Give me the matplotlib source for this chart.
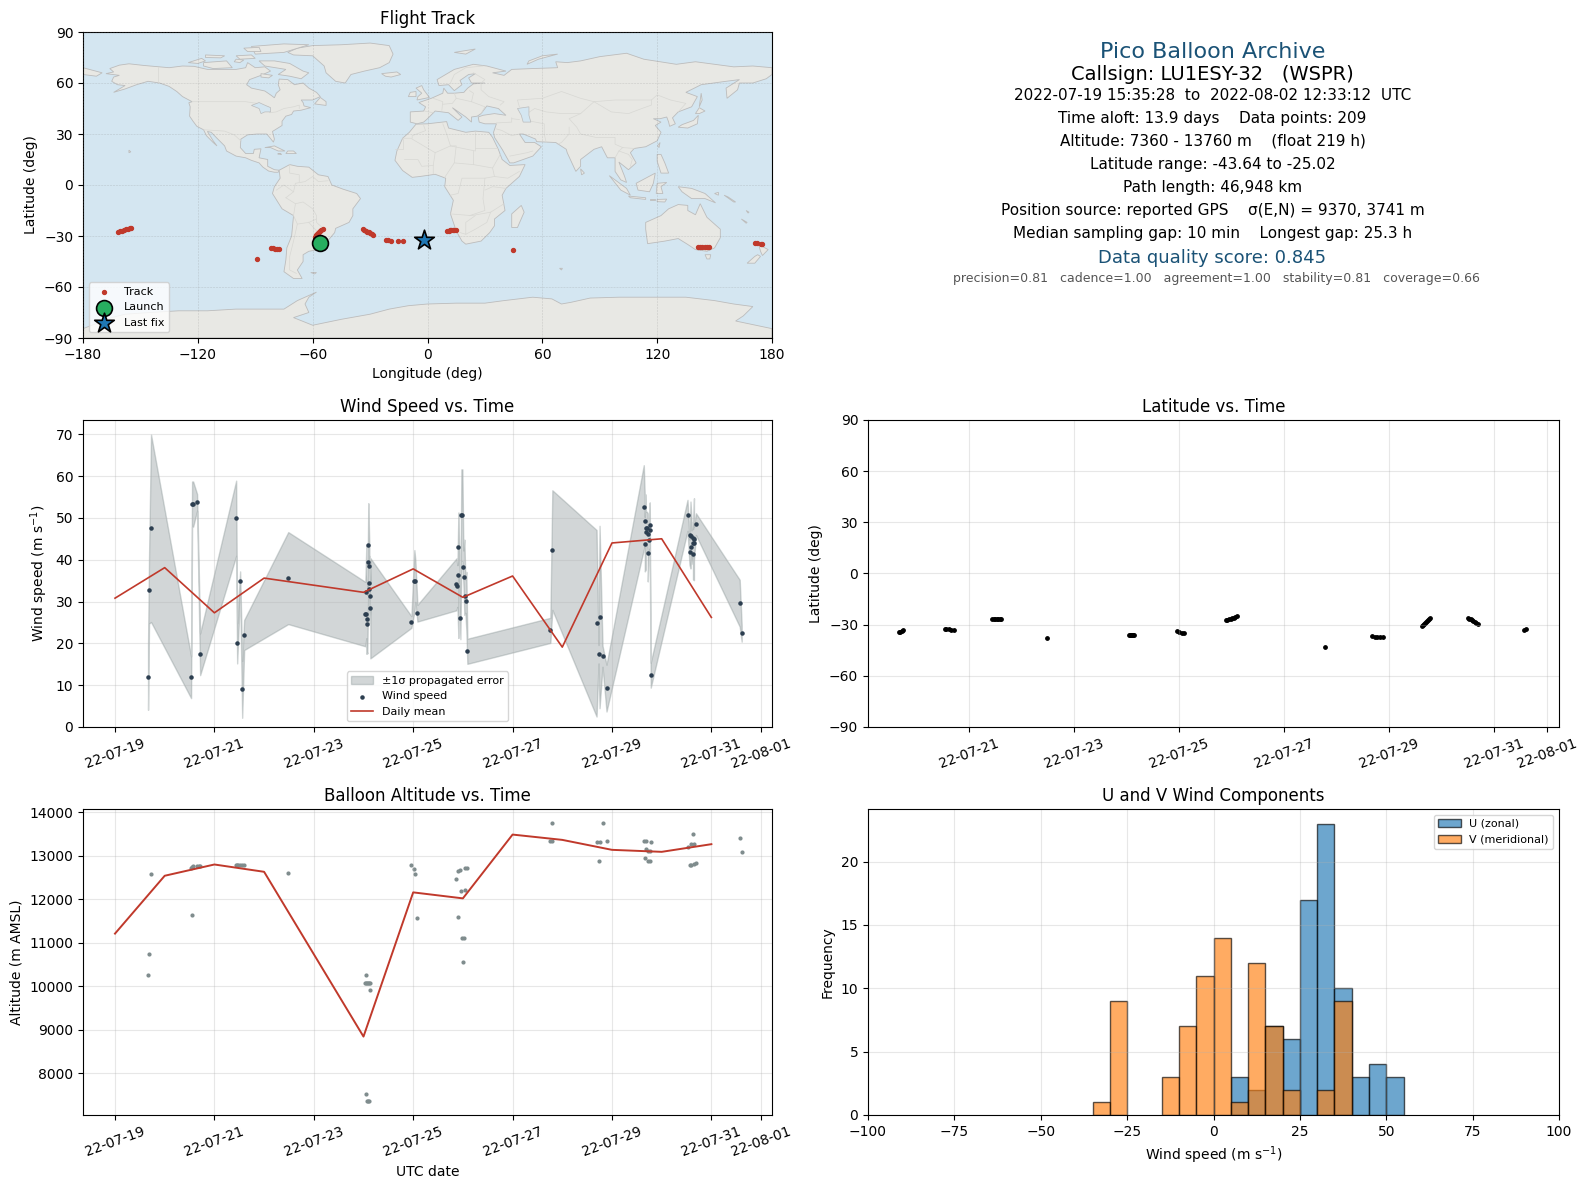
import datetime as dt

import matplotlib
matplotlib.use("Agg")
import matplotlib.dates as mdates
import matplotlib.pyplot as plt
import numpy as np
from matplotlib.patches import Polygon

# days after 2022-07-19 00:00 UTC
wind_t = [0.665, 0.685, 0.725, 1.531, 1.551, 1.572, 1.652, 1.713, 2.438, 2.458, 2.518, 2.559, 2.599, 3.486,
          5.037, 5.057, 5.057, 5.077, 5.077, 5.097, 5.097, 5.118, 5.118, 5.118, 5.138, 5.138,
          5.964, 6.024, 6.044, 6.085, 6.87, 6.89, 6.91, 6.91, 6.95, 6.97, 6.99, 7.01, 7.03, 7.05, 7.07, 7.09,
          8.76, 8.80, 9.69, 9.73, 9.75, 9.81, 9.89,
          10.64, 10.66, 10.66, 10.68, 10.68, 10.70, 10.72, 10.72, 10.74, 10.76, 10.76, 10.78,
          11.52, 11.56, 11.58, 11.60, 11.60, 11.63, 11.63, 11.63, 11.65, 11.65, 11.69, 12.57, 12.61]
wind_v = [11.9, 32.7, 47.5, 11.9, 53.3, 53.3, 53.7, 17.4, 49.9, 20.0, 34.9, 9.0, 22.0, 35.6,
          27.0, 32.2, 27.0, 25.8, 24.6, 43.5, 39.4, 38.4, 34.4, 32.9, 31.3, 28.4,
          25.1, 34.9, 34.9, 27.2, 34.1, 33.7, 36.3, 43.0, 26.0, 50.6, 50.6, 38.2, 35.8, 31.3, 30.1, 18.1,
          23.1, 42.3, 24.8, 17.4, 26.3, 16.9, 9.3,
          52.5, 49.2, 43.7, 46.6, 47.5, 47.5, 46.1, 41.6, 44.7, 48.2, 47.0, 12.4,
          50.6, 41.8, 45.9, 45.6, 43.0, 45.1, 43.9, 41.3, 44.9, 43.9, 48.5, 29.6, 22.4]
wind_err = [7.8, 8.0, 22.4, 5.0, 5.4, 5.4, 2.0, 5.0, 9.0, 4.8, 2.3, 6.8, 3.6, 11.0,
            7.7, 11.0, 9.5, 8.0, 7.0, 10.0, 14.0, 5.0, 6.0, 8.0, 3.0, 12.0,
            1.4, 7.4, 5.0, 2.0, 6.2, 5.0, 15.0, 7.0, 5.0, 11.0, 11.0, 4.0, 9.0, 4.0, 7.0, 3.0,
            3.0, 14.3, 22.3, 2.2, 21.8, 2.5, 5.6,
            10.1, 6.0, 6.5, 9.0, 4.0, 4.0, 5.0, 6.8, 3.0, 5.5, 6.5, 3.0,
            3.7, 3.0, 8.0, 4.0, 4.0, 4.0, 4.0, 6.0, 9.8, 4.0, 2.6, 5.6, 2.0]

day_t = [0, 1, 2, 3, 5, 6, 7, 8, 9, 10, 11, 12]
day_wind = [30.8, 38.1, 27.3, 35.6, 32.2, 37.8, 31.0, 36.1, 19.1, 44.0, 45.0, 26.2]
day_alt = [11211, 12541, 12800, 12632, 8843, 12159, 12021, 13488, 13366, 13137, 13091, 13267]

alt_t = [0.665, 0.685, 0.725, 1.531, 1.551, 1.551, 1.572, 1.652, 1.692, 1.713,
         2.438, 2.458, 2.478, 2.518, 2.559, 2.599, 3.486,
         5.057, 5.037, 5.057, 5.077, 5.097, 5.118, 5.138, 5.138, 5.057, 5.077, 5.097, 5.118,
         5.964, 6.024, 6.044, 6.085,
         6.87, 6.91, 6.95, 6.97, 6.91, 6.99, 7.03, 7.01, 7.05, 7.05, 7.09,
         8.76, 8.80, 8.80, 9.69, 9.75, 9.73, 9.81, 9.89,
         10.64, 10.68, 10.78, 10.68, 10.72, 10.76, 10.66, 10.72, 10.76,
         11.52, 11.60, 11.65, 11.63, 11.56, 11.60, 11.65, 11.69, 12.57, 12.61]
alt_m = [10270, 10753, 12587, 12730, 11647, 12745, 12770, 12770, 12770, 12770,
         12793, 12793, 12793, 12793, 12793, 12793, 12610,
         10250, 10065, 10065, 10065, 10065, 10065, 10065, 9905, 7520, 7360, 7360, 7360,
         12793, 12700, 12587, 11578,
         12472, 12655, 12678, 12197, 11600, 11120, 11120, 10547, 12212, 12724, 12724,
         13343, 13755, 13343, 13320, 13320, 12885, 13755, 13343,
         13343, 13343, 13320, 13160, 13114, 13114, 12953, 12885, 12885,
         13205, 13280, 13280, 13503, 12780, 12793, 12816, 12840, 13412, 13091]

track_t = [0.68, 0.70, 0.72, 0.75,
           1.55, 1.57, 1.62, 1.66, 1.72,
           2.44, 2.47, 2.50, 2.53, 2.56, 2.60, 2.62,
           3.48,
           5.05, 5.07, 5.09, 5.11, 5.13, 5.15,
           5.97, 6.00, 6.05, 6.10,
           6.89, 6.92, 6.95, 6.98, 7.01, 7.04, 7.07, 7.10,
           8.78,
           9.68, 9.72, 9.76, 9.82, 9.89,
           10.62, 10.64, 10.66, 10.68, 10.70, 10.72, 10.74, 10.76, 10.78,
           11.50, 11.52, 11.55, 11.58, 11.60, 11.63, 11.66, 11.68,
           12.57, 12.61]
track_lat = [-34.2, -34.1, -33.9, -33.3,
             -32.3, -32.5, -32.8, -32.9, -32.9,
             -26.9, -26.8, -26.7, -26.6, -26.6, -26.6, -26.6,
             -38.1,
             -36.3, -36.3, -36.3, -36.3, -36.3, -36.3,
             -34.0, -34.2, -34.6, -34.6,
             -27.5, -27.1, -26.8, -26.4, -26.1, -25.8, -25.5, -25.2,
             -43.3,
             -36.9, -37.1, -37.4, -37.5, -37.5,
             -30.6, -30.0, -29.4, -28.8, -28.2, -27.7, -27.2, -26.6, -26.0,
             -26.0, -26.4, -26.9, -27.4, -27.9, -28.4, -29.0, -29.4,
             -33.0, -32.5]
track_lon = [-56.0, -55.5, -55.0, -54.0,
             -21.7, -20.5, -19.0, -15.5, -13.0,
             10.4, 11.0, 11.8, 12.5, 13.2, 14.0, 14.8,
             44.9,
             141.4, 142.5, 143.5, 144.8, 146.0, 147.0,
             171.0, 172.3, 174.0, 174.8,
             -161.7, -160.5, -159.5, -158.5, -157.5, -156.5, -155.5, -154.8,
             -89.3,
             -81.7, -80.5, -79.5, -78.5, -77.7,
             -59.0, -58.5, -58.0, -57.5, -57.0, -56.5, -56.0, -55.4, -54.8,
             -33.6, -33.0, -32.2, -31.5, -30.8, -30.0, -29.2, -28.3,
             -3.0, -2.0]
launch_lon, launch_lat = -56.0, -34.2
last_lon, last_lat = -2.0, -32.5

hist_edges = np.arange(-100, 101, 5)
u_left = [5, 10, 15, 20, 25, 30, 35, 40, 45, 50]
u_count = [3, 2, 7, 6, 17, 23, 10, 3, 4, 3]
v_left = [-35, -30, -15, -10, -5, 0, 5, 10, 15, 20, 30, 35]
v_count = [1, 9, 3, 7, 11, 14, 1, 12, 7, 2, 2, 9]

# simplified world outline, lon/lat
land = [
    [(-168, 65.5), (-164, 66.5), (-166, 68.5), (-161, 70.5), (-156, 71.3), (-148, 70.3), (-141, 69.6), (-135, 69),
     (-128, 70), (-122, 69.8), (-115, 68), (-108, 68), (-100, 68), (-95, 69), (-94, 72), (-90, 69), (-85, 69.5),
     (-82, 67), (-87, 64.5), (-93, 62), (-94.5, 59), (-92, 57), (-85, 55.3), (-82, 53), (-80, 51.3), (-79, 54),
     (-77, 56), (-78, 59), (-77.5, 62.3), (-73, 62), (-69.5, 59), (-65, 60), (-62, 57), (-58, 54.5), (-56, 52),
     (-60, 50), (-66, 50), (-65, 48.5), (-64.5, 46.5), (-61, 45.5), (-66, 44), (-70, 43.5), (-71, 41.5), (-74, 40.5),
     (-76, 37.5), (-76, 35), (-81, 31.5), (-80, 27), (-80.5, 25.2), (-82.5, 28), (-84, 30), (-89, 30), (-94, 29.5),
     (-97.5, 27), (-97.8, 22), (-95, 18.5), (-91, 18.5), (-90.5, 21), (-87, 21.3), (-88, 16), (-83.5, 15),
     (-83.5, 11), (-80, 9), (-77.5, 8.7), (-78, 7.5), (-80, 7.5), (-83, 8.2), (-86, 10.5), (-88, 13), (-92, 14.5),
     (-95, 16), (-100, 17), (-105, 20), (-106, 23), (-110, 27.5), (-113, 31), (-115, 31.5), (-112, 26), (-110, 23),
     (-112, 25), (-115.5, 29), (-117, 32.5), (-120.5, 34.5), (-122.5, 37.5), (-124.3, 40.5), (-124, 46),
     (-124.7, 48.4), (-123, 49), (-128, 52), (-131, 55), (-135, 58), (-140, 60), (-146, 61), (-152, 59),
     (-158, 56.5), (-164, 54.5), (-158, 58.5), (-162, 59), (-165, 61), (-164, 63.5), (-161, 64.5)],
    [(-73, 78), (-68, 80.5), (-60, 82), (-45, 82.5), (-30, 83.5), (-20, 82), (-18, 77), (-20, 72), (-25, 69),
     (-33, 67), (-40, 65), (-43, 60), (-48, 61), (-53, 66), (-54, 70), (-60, 76), (-70, 76.5)],
    [(-80, 73), (-72, 71.5), (-65, 67), (-62, 66), (-66, 62.5), (-72, 64), (-78, 65), (-74, 68), (-85, 70), (-88, 73)],
    [(-117, 72), (-105, 73), (-102, 69), (-112, 68.5), (-117, 70)],
    [(-90, 77), (-75, 78), (-62, 82.5), (-75, 83), (-92, 81.5)],
    [(-125, 72), (-118, 74.5), (-116, 73), (-120, 71.5)],
    [(-100, 76), (-92, 76.5), (-90, 74.5), (-98, 74)],
    [(-116, 76.5), (-106, 76), (-108, 74.8), (-116, 75)],
    [(-96, 80.5), (-88, 81), (-87, 78.5), (-94, 78.5)],
    [(-100, 74), (-96, 73.5), (-98, 72), (-101, 72.5)],
    [(-87, 65.5), (-81, 64.5), (-83, 63), (-87, 63.5)],
    [(-59, 47.7), (-53, 46.8), (-53, 49), (-56, 51.5)],
    [(-85, 22), (-80, 23), (-74.5, 20), (-78, 20), (-82, 22)],
    [(-74, 18.5), (-68.5, 18.5), (-70, 20), (-73, 20)],
    [(-78.3, 18.3), (-76.3, 18), (-76.8, 18.5)],
    [(-77.5, 8.7), (-72, 12), (-68, 11), (-62, 10.5), (-57, 6), (-52, 5), (-50, 0), (-44, -2.5), (-37, -5), (-35, -8),
     (-39, -14), (-39, -18), (-41, -22), (-48, -25.5), (-48.5, -28), (-53, -34), (-58, -34.5), (-57, -38), (-62, -39),
     (-65, -41), (-65, -45), (-68, -50), (-65.5, -55), (-70, -55), (-75, -51), (-74, -44), (-73.5, -37), (-71, -30),
     (-70, -18), (-76, -14), (-81, -5), (-80, -1), (-77, 4)],
    [(-6, 35.8), (0, 36), (10, 37.3), (11, 33.5), (20, 31), (25, 31.7), (32, 31), (34, 28), (37, 21), (39, 15),
     (43, 11.5), (51, 12), (48, 5), (41, -2), (39, -6), (40.5, -15), (35, -20), (35, -24), (32.5, -28), (28, -33),
     (20, -34.8), (18, -33), (15, -27), (12, -17), (13.5, -9), (9, -1), (9.5, 4), (4, 6.3), (-4, 5), (-8, 4.5),
     (-13, 8.5), (-17, 14.5), (-16, 20), (-13, 27.5), (-9.5, 31)],
    [(-9, 37), (-9, 43), (-2, 43.5), (-1, 46), (-4.5, 48.5), (2, 51), (8, 54), (8.5, 57), (10.5, 54), (14, 54),
     (19, 54.5), (21, 57), (24, 59.5), (30, 60), (23, 60), (21.5, 63), (25, 65.5), (21.5, 65), (17, 61.5), (18, 59),
     (14, 55.5), (11, 59), (6, 58.5), (5, 62), (14, 68), (24, 71), (31, 70), (41, 67), (34, 66), (40, 64.5), (44, 68),
     (55, 68.5), (68, 69), (67, 72.5), (73, 72), (80, 73), (90, 75.5), (104, 77.5), (113, 74), (130, 71), (140, 72.5),
     (160, 69.5), (170, 70), (180, 69), (180, 65), (177, 62.5), (170, 60), (163, 60), (162, 56), (156.5, 51),
     (156, 57), (163, 62), (156, 61), (143, 59), (135, 54.5), (141, 52), (138, 46), (131, 43), (128, 39.5),
     (129.5, 36), (126.5, 34.5), (126, 37), (125, 40), (121.5, 39), (118, 39), (122, 37), (119, 35), (122, 31),
     (120, 26), (114, 22.5), (108, 21.5), (106, 19), (109, 13), (105, 9), (100, 13.5), (103, 5), (104, 1.5), (101, 3),
     (98, 8), (98, 16), (94, 16), (91, 22.5), (87, 21), (80, 15), (80, 11), (77.5, 8), (73, 19), (72.5, 21), (67, 25),
     (57, 25.5), (56.5, 27), (50, 30), (48, 30), (51, 25), (56, 25), (59.5, 22.5), (55, 17), (45, 13), (43, 13),
     (39, 21), (35, 28), (34.5, 31), (36, 36), (30, 36), (27, 37), (26.5, 40), (29, 41), (35, 42), (41, 41), (37, 45),
     (31, 46.5), (28, 42), (26, 40.5), (23, 40), (23, 37), (20, 40), (13, 45.5), (18, 40), (16, 38), (11, 42.5),
     (4, 43.5), (0, 39), (-2, 37), (-5.5, 36)],
    [(-180, 65), (-180, 69), (-175, 67.5), (-170, 66), (-173, 64)],
    [(114, -22), (122, -18), (126, -14), (131, -11.5), (136, -12), (136, -15), (140, -17.5), (142.5, -11), (146, -19),
     (153, -26), (153, -31), (150, -37), (146, -39), (140, -38), (136, -35), (131, -31.5), (124, -33), (115, -34.5),
     (114, -26)],
    [(173, -35), (178, -38), (175, -41.5), (174, -39)],
    [(172.5, -41), (174, -42), (171, -46), (167, -46), (171, -42)],
    [(145, -41), (148, -41), (147.5, -43.5), (146, -43.5)],
    [(131, -1), (138, -2), (145, -5), (150.5, -10.5), (145, -8), (138, -8), (133, -4)],
    [(109, 1), (114, 4), (119, 7), (118, 1), (116, -4), (110, -3)],
    [(95, 5.5), (104, -2), (106, -6), (101, -3)],
    [(105, -6.5), (114, -7.5), (114, -8.5), (106, -7.5)],
    [(116, -8.3), (119, -8.3), (119, -9), (116, -9)],
    [(120, -8.5), (125, -8.3), (124, -10), (120, -9.8)],
    [(119.5, -5), (120, 1), (125, 1.5), (122, -1), (123, -5)],
    [(120, 18), (122, 18), (124, 13), (126, 7), (122, 7), (120, 14)],
    [(150, -5), (152, -4.3), (152, -6)],
    [(155, -6), (157, -7), (161, -10), (160, -10)],
    [(166.5, -15), (168, -16), (167.5, -16.5)],
    [(164, -20), (167, -22), (166.5, -22.5)],
    [(131, 34), (136, 33.5), (141, 36), (141.5, 41), (139, 38), (133, 35.5)],
    [(140, 42), (142, 45.5), (145, 43.5), (142, 42)],
    [(142, 46), (143, 54), (143.5, 50)],
    [(120.2, 23), (121.5, 25), (121, 22)],
    [(80, 9.5), (82, 7), (80.5, 6)],
    [(49, -12), (50.5, -16), (47, -25), (44, -25), (44, -17)],
    [(-5.5, 50), (1, 51.5), (0, 53), (-2, 56), (-3, 58.5), (-6, 57), (-3, 54), (-5, 52)],
    [(-10, 52), (-6, 52), (-6, 55), (-9, 54.5)],
    [(-24, 65.5), (-16, 66.5), (-14, 65), (-19, 63.5), (-22, 64)],
    [(14, 78), (25, 80), (20, 77)],
    [(52, 71), (58, 74), (68, 77), (60, 76), (53, 73)],
    [(-61, -51.5), (-58, -51.5), (-59, -52.3)],
    [(-156, 19), (-155, 19.5), (-156, 20.5)],
    [(69, -49), (70.5, -49), (70, -50)],
    [(-180, -90), (-180, -84.5), (-165, -78), (-158, -76), (-145, -75), (-130, -74), (-115, -74), (-100, -73),
     (-90, -73), (-75, -73), (-68, -68), (-58, -63), (-62, -66), (-64, -70), (-62, -75), (-70, -78), (-60, -82.5),
     (-45, -79), (-30, -76), (-20, -73), (-10, -71), (0, -70), (15, -69.5), (30, -69.5), (40, -68), (55, -66),
     (65, -67), (70, -70), (75, -69), (85, -66.5), (100, -66), (115, -66), (135, -66), (150, -68), (160, -70),
     (170, -71.5), (165, -77), (161, -80), (180, -84.5), (180, -90)],
]
lakes = [
    [(47, 45), (53, 46), (53, 41), (54, 37), (50, 37), (49, 41)],
    [(-88, 48.5), (-84.5, 46.7), (-82, 45.5), (-82, 43), (-85, 43), (-87, 42), (-88, 45), (-92, 46.8)],
]
borders = [
    [(-123, 49), (-95, 49), (-89, 48), (-83, 46), (-82.5, 42.5), (-79, 43), (-75, 45), (-70, 46), (-67, 47), (-67, 45)],
    [(-141, 69.6), (-141, 60)],
    [(-117, 32.5), (-106, 31.7), (-101, 29.5), (-97.5, 26)],
    [(-74, -7.5), (-70, -4), (-69, 1), (-64, 2), (-60, 5), (-57, 2), (-52, 2.5)],
    [(-74, -7.5), (-69, -11), (-65, -10), (-60, -14), (-58, -18), (-58, -22), (-54.5, -25.5), (-57, -30), (-53, -33.5)],
    [(-70, -18), (-69, -11)],
    [(-70, -18), (-68, -23), (-70, -33), (-72, -42), (-72, -50), (-68.5, -52)],
    [(-68, -23), (-62, -22), (-58, -20)],
    [(-62, -22), (-58, -27)],
    [(-79, -3), (-75, 0), (-70, -4)],
    [(-72, 12), (-72, 7), (-67, 6), (-67, 2)],
    [(-13, 27.5), (-8, 27.5), (-8, 29), (-1, 32), (-2, 35)],
    [(-17, 21), (-13, 21), (-13, 27)],
    [(-8, 27), (4, 19), (12, 23), (10, 30), (8, 36)],
    [(12, 23), (25, 20), (25, 31)],
    [(25, 22), (37, 22)],
    [(4, 19), (3, 11.5), (3, 6.5)],
    [(-12, 15), (-5, 15), (-3, 11), (3, 11.5)],
    [(12, 23), (15, 23), (14, 13), (9, 4.5)],
    [(14, 13), (24, 12), (24, 20)],
    [(24, 12), (34, 10), (36, 14), (38, 18)],
    [(34, 10), (35, 5), (42, 4), (48, 8)],
    [(35, 5), (30, 4), (18, 4), (16, -5), (12, -6)],
    [(30, 4), (29, -8), (30, -15), (22, -18)],
    [(12, -17), (23, -18), (33, -16), (40, -11)],
    [(41, -2), (34, -1), (30, -3)],
    [(20, -29), (20, -22), (25, -18)],
    [(17, -28), (20, -29), (25, -26), (31, -22), (33, -16)],
    [(28, 60), (28, 56), (32, 52), (40, 49), (38, 47)],
    [(48, 46), (47, 50), (60, 51), (70, 55), (80, 51), (87, 49), (98, 50), (108, 50), (117, 50), (120, 53), (127, 50),
     (135, 48), (131, 43)],
    [(87, 49), (96, 43), (105, 42), (112, 45), (117, 47), (117, 50)],
    [(80, 42), (74, 39), (78, 34), (80, 30), (88, 28), (98, 28), (98, 24), (102, 22), (108, 21.5)],
    [(52, 42), (56, 45), (62, 43), (70, 42), (80, 42), (87, 49)],
    [(44, 39), (48, 38.5)],
    [(54, 37.5), (61, 36), (61, 30), (62, 25)],
    [(74, 34), (74, 30), (70, 25), (68, 24)],
    [(36, 36.5), (44, 37), (44, 39.5)],
    [(48, 30), (44, 29), (39, 32), (36, 33)],
    [(43, 17), (52, 19), (55, 20)],
    [(98, 16), (100, 20), (102, 22)],
    [(100, 20), (105, 18), (107, 15), (106, 11)],
    [(-1.5, 43.5), (3, 42.5)],
    [(3, 51), (8, 49), (7.5, 44)],
    [(14, 54), (15, 51), (23, 49), (24, 54), (22, 55.5)],
    [(15, 51), (13, 48), (8, 47.5)],
    [(23, 49), (30, 46), (28, 42)],
    [(12, 60), (14, 65), (20, 69), (29, 70)],
    [(24, 66), (30, 62), (28, 60)],
]

info_lines = [
    ("Pico Balloon Archive", 52, 16, "#1a5276"),
    ("Callsign: LU1ESY-32   (WSPR)", 74, 14, "black"),
    ("2022-07-19 15:35:28  to  2022-08-02 12:33:12  UTC", 95.5, 11, "black"),
    ("Time aloft: 13.9 days    Data points: 209", 118.5, 11, "black"),
    ("Altitude: 7360 - 13760 m    (float 219 h)", 141, 11, "black"),
    ("Latitude range: -43.64 to -25.02", 164, 11, "black"),
    ("Path length: 46,948 km", 187.5, 11, "black"),
    ("Position source: reported GPS    σ(E,N) = 9370, 3741 m", 210.5, 11, "black"),
    ("Median sampling gap: 10 min    Longest gap: 25.3 h", 233.5, 11, "black"),
    ("Data quality score: 0.845", 258, 13, "#1a5276"),
    ("precision=0.81   cadence=1.00   agreement=1.00   stability=0.81   coverage=0.66", 278.5, 9, "#555555"),
]

W, H = 1588, 1189
start = mdates.date2num(dt.datetime(2022, 7, 19))


def to_dates(days):
    return start + np.asarray(days, dtype=float)


def place(left, top, right, bottom):
    return fig.add_axes([left / W, 1 - bottom / H, (right - left) / W, (bottom - top) / H])


def date_axis(ax, lo, hi):
    ax.set_xlim(start + lo, start + hi)
    ax.xaxis_date()
    ax.xaxis.set_major_locator(mdates.DayLocator(bymonthday=range(1, 32, 2)))
    ax.xaxis.set_major_formatter(mdates.DateFormatter("%y-%m-%d"))
    ax.tick_params(axis="x", labelrotation=20)
    ax.grid(True, alpha=0.3)


fig = plt.figure(figsize=(W / 100, H / 100), dpi=100)
ax_map = place(83, 32, 772, 338)
ax_info = place(868, 31, 1559, 338)
ax_wind = place(83, 420, 772, 727)
ax_lat = place(868, 420, 1559, 727)
ax_alt = place(83, 809, 772, 1115)
ax_hist = place(868, 809, 1559, 1115)

# flight track
ax_map.set_facecolor("#d4e6f1")
for poly in land:
    ax_map.add_patch(Polygon(poly, closed=True, facecolor="#e8e8e4", edgecolor="#bcbcbc", linewidth=0.6, zorder=1))
for poly in lakes:
    ax_map.add_patch(Polygon(poly, closed=True, facecolor="#d4e6f1", edgecolor="#bcbcbc", linewidth=0.5, zorder=1.2))
for line in borders:
    xs, ys = zip(*line)
    ax_map.plot(xs, ys, color="#d8d8d4", linewidth=0.5, zorder=1.1)
ax_map.scatter(track_lon, track_lat, s=8, color="#c0392b", label="Track", zorder=3)
ax_map.scatter(launch_lon, launch_lat, s=130, color="#27ae60", edgecolor="black", linewidth=1.2, label="Launch", zorder=4)
ax_map.scatter(last_lon, last_lat, s=220, marker="*", color="#1f77b4", edgecolor="black", linewidth=1.2,
               label="Last fix", zorder=5)
ax_map.set_xlim(-180, 180)
ax_map.set_ylim(-90, 90)
ax_map.set_xticks(np.arange(-180, 181, 60))
ax_map.set_yticks(np.arange(-90, 91, 30))
ax_map.grid(True, linestyle="--", linewidth=0.4, alpha=0.3, color="gray", zorder=2)
ax_map.set_axisbelow(False)
ax_map.set_xlabel("Longitude (deg)")
ax_map.set_ylabel("Latitude (deg)")
ax_map.set_title("Flight Track")
ax_map.legend(loc="lower left", fontsize=8)

# summary text
ax_info.axis("off")
for text, y_px, size, color in info_lines:
    x = 0.5043 if size == 9 else 0.4985
    ax_info.text(x, (338 - y_px) / 307, text, ha="center", va="center", fontsize=size, color=color,
                 transform=ax_info.transAxes)

# wind speed
wind = np.array(wind_v)
err = np.array(wind_err)
ax_wind.fill_between(to_dates(wind_t), wind - err, wind + err, color="#7f8c8d", alpha=0.35,
                     label="±1σ propagated error")
ax_wind.scatter(to_dates(wind_t), wind, s=5, color="#2c3e50", label="Wind speed", zorder=3)
ax_wind.plot(to_dates(day_t), day_wind, color="#c0392b", linewidth=1.2, label="Daily mean", zorder=4)
date_axis(ax_wind, -0.644, 13.22)
ax_wind.set_ylim(0, 73.4)
ax_wind.set_ylabel("Wind speed (m s$^{-1}$)")
ax_wind.set_title("Wind Speed vs. Time")
ax_wind.legend(loc="lower center", fontsize=8)

# latitude
ax_lat.scatter(to_dates(track_t), track_lat, s=6, color="black")
date_axis(ax_lat, 0.082, 13.23)
ax_lat.set_ylim(-90, 90)
ax_lat.set_yticks(np.arange(-90, 91, 30))
ax_lat.set_ylabel("Latitude (deg)")
ax_lat.set_title("Latitude vs. Time")

# altitude
ax_alt.scatter(to_dates(alt_t), alt_m, s=4, color="#7f8c8d")
ax_alt.plot(to_dates(day_t), day_alt, color="#c0392b", linewidth=1.4)
date_axis(ax_alt, -0.644, 13.22)
ax_alt.set_ylim(7040, 14076)
ax_alt.set_xlabel("UTC date")
ax_alt.set_ylabel("Altitude (m AMSL)")
ax_alt.set_title("Balloon Altitude vs. Time")

# wind components
ax_hist.bar(u_left, u_count, width=5, align="edge", color="#1f77b4", edgecolor="black", alpha=0.65, label="U (zonal)")
ax_hist.bar(v_left, v_count, width=5, align="edge", color="#ff7f0e", edgecolor="black", alpha=0.65,
            label="V (meridional)")
ax_hist.set_xlim(hist_edges[0], hist_edges[-1])
ax_hist.set_ylim(0, 24.15)
ax_hist.grid(True, alpha=0.3)
ax_hist.set_xlabel("Wind speed (m s$^{-1}$)")
ax_hist.set_ylabel("Frequency")
ax_hist.set_title("U and V Wind Components")
ax_hist.legend(loc="upper right", fontsize=8)

fig.savefig("out.png", dpi=100)
